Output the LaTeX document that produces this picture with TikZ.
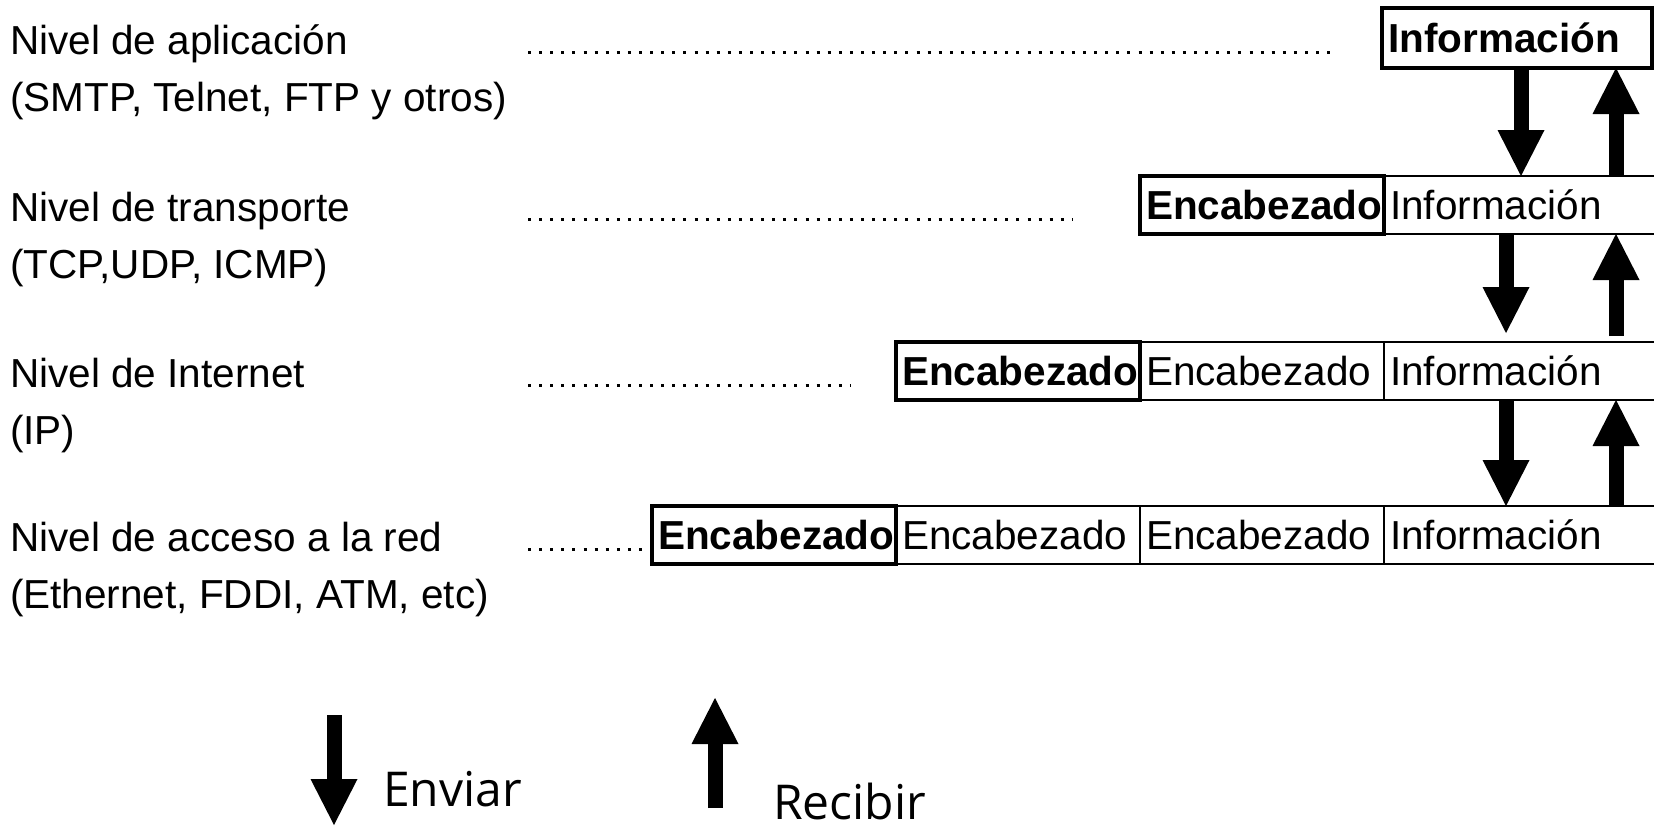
\documentclass[tikz,border=0pt]{standalone}
\usepackage{fontspec}
\setmainfont{Liberation Sans}
\newfontfamily\legendfont{Open Sans}
\usetikzlibrary{arrows.meta}
\usetikzlibrary{calc}

\begin{document}
\begin{tikzpicture}[x=1pt,y=1pt,yscale=-1,xscale=1,
  lbl/.style={anchor=base west,inner sep=0pt,font=\fontsize{40.5}{48}\selectfont},
  leader/.style={line width=3pt,dash pattern={on 3pt off 8.1pt}},
  cell/.style={draw,line width=1.8pt,anchor=west,outer sep=0pt,inner xsep=6pt,
    minimum height=58pt,text width=232pt,align=left,text height=29pt,text depth=0pt,
    font=\fontsize{40.5}{48}\selectfont},
  infocell/.style={cell,text width=300pt},
  hdrcell/.style={cell,line width=4.5pt,font=\fontsize{40.5}{48}\selectfont\bfseries},
  blockarrow/.style={line width=15pt,-{Triangle[length=46pt,width=47pt,line width=0pt]}},
  legend/.style={anchor=base west,inner sep=0pt,font=\legendfont\fontsize{48}{56}\selectfont}]
\useasboundingbox (0,0) rectangle (1654,825);
\clip (0,0) rectangle (1654,825);

% Text Node
\node[lbl] (nA) at (10,54) {Nivel de aplicación};
\node[lbl] (pA) at (10,111) {(SMTP, Telnet, FTP y otros)};
\node[lbl] (nB) at (10,221) {Nivel de transporte};
\node[lbl] (pB) at (10,278) {(TCP,UDP, ICMP)};
\node[lbl] (nC) at (10,387) {Nivel de Internet};
\node[lbl] (pC) at (10,444) {(IP)};
\node[lbl] (nD) at (10,551) {Nivel de acceso a la red};
\node[lbl] (pD) at (10,608) {(Ethernet, FDDI, ATM, etc)};

%Straight Lines
\coordinate (dA) at (528,52);  \coordinate (eA) at (1331,52);
\coordinate (dB) at (528,219); \coordinate (eB) at (1072,219);
\coordinate (dC) at (528,385); \coordinate (eC) at (850,385);
\coordinate (dD) at (528,549); \coordinate (eD) at (642,549);
\draw[leader] (dA) -- (eA);
\draw[leader] (dB) -- (eB);
\draw[leader] (dC) -- (eC);
\draw[leader] (dD) -- (eD);

%Shape: Rectangle
\node[hdrcell,text width=258pt,minimum height=60pt] (iA) at (1382,38) {Información};
%Shape: Rectangle
\node[hdrcell] (hB) at (1140,205) {Encabezado};
\node[infocell] (iB) at (hB.east) {Información};
%Shape: Rectangle
\node[hdrcell] (hC1) at (896,371) {Encabezado};
\node[cell] (hC2) at (hC1.east) {Encabezado};
\node[infocell] (iC) at (hC2.east) {Información};
%Shape: Rectangle
\node[hdrcell] (hD1) at (652,535) {Encabezado};
\node[cell] (hD2) at (hD1.east) {Encabezado};
\node[cell] (hD3) at (hD2.east) {Encabezado};
\node[infocell] (iD) at (hD3.east) {Información};

%Straight Lines
\draw[blockarrow] ($(iA.south west)+(139,0)$) -- ($(iB.north west)+(137,0)$);
\draw[blockarrow] ($(iB.south west)+(122,0)$) -- ($(iC.north west)+(122,-9)$);
\draw[blockarrow] ($(iC.south west)+(122,0)$) -- ($(iD.north west)+(122,0)$);
\draw[blockarrow] ($(iB.north west)+(232,0)$) -- ($(iA.south west)+(234,0)$);
\draw[blockarrow] ($(iC.north west)+(232,-6)$) -- ($(iB.south west)+(232,0)$);
\draw[blockarrow] ($(iD.north west)+(232,0)$) -- ($(iC.south west)+(232,0)$);

%Straight Lines
\coordinate (sendtail) at (334,715); \coordinate (sendtip) at (334,825);
\draw[blockarrow] (sendtail) -- (sendtip);
\coordinate (recvtail) at (715,808); \coordinate (recvtip) at (715,698);
\draw[blockarrow] (recvtail) -- (recvtip);

% Text Node
\node[legend] (lsend) at (383,806) {Enviar};
\node[legend] (lrecv) at (773,819) {Recibir};

\end{tikzpicture}
\end{document}
